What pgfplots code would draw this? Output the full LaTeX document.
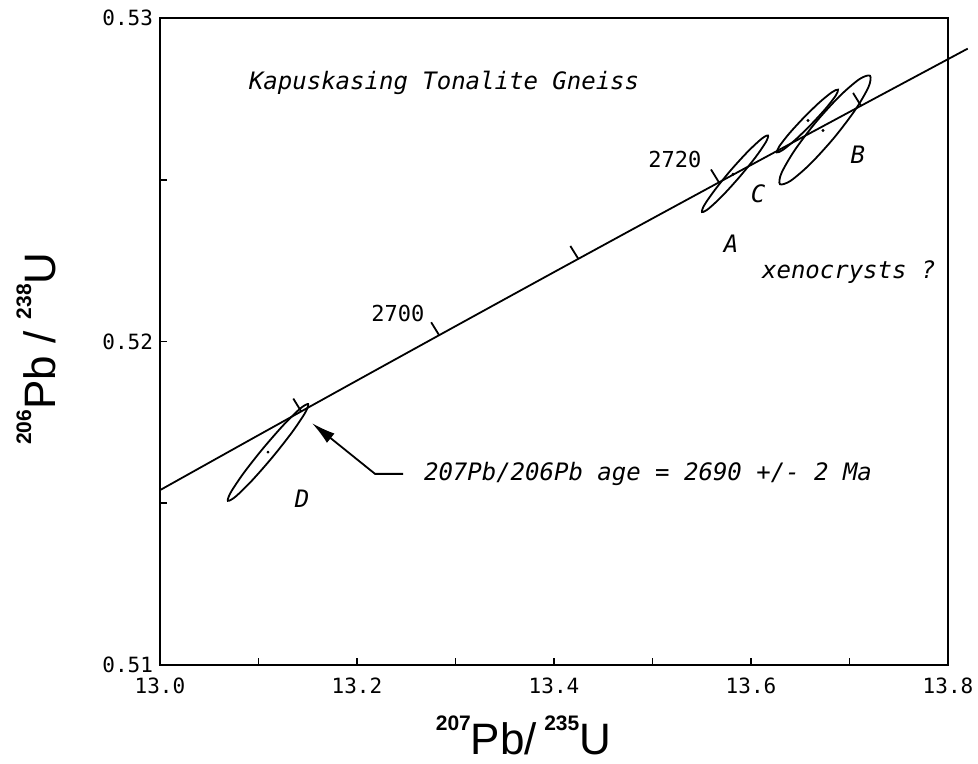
\documentclass[border=0pt]{standalone}
\usepackage{pgfplots}
\pgfplotsset{compat=1.18}
\usetikzlibrary{arrows.meta}
\usepackage{fontspec}
\setmainfont{DejaVu Sans Mono}
\newfontfamily\labfont{Liberation Sans}
\newcommand{\isosup}[1]{\raisebox{12pt}{\fontsize{10.5}{10}\selectfont\bfseries #1}}
\begin{document}
\begin{tikzpicture}[x=1pt,y=1pt]
\path[use as bounding box] (-80,-49.5) rectangle (409,332.5);
\begin{axis}[
  scale only axis, width=394pt, height=323.5pt,
  at={(0,0)}, anchor=south west,
  xmin=13.0, xmax=13.8, ymin=0.51, ymax=0.53,
  clip=false,
  axis line style={line width=0.9pt},
  xtick={13.0,13.2,13.4,13.6,13.8}, minor xtick={13.1,13.3,13.5,13.7},
  ytick={0.51,0.52,0.53}, minor ytick={0.515,0.525},
  tick align=inside, tick pos=left,
  major tick length=3.5pt, minor tick length=3.5pt,
  tick style={line width=0.8pt, black},
  scaled ticks=false,
  /pgf/number format/assume math mode=true,
  tick label style={font=\fontsize{10.5}{12}\selectfont},
  xticklabel style={/pgf/number format/.cd, fixed, fixed zerofill, precision=1, /tikz/yshift=-3pt},
  yticklabel style={/pgf/number format/.cd, fixed, fixed zerofill, precision=2},
  xlabel={\labfont\fontsize{22}{22}\selectfont\isosup{207}Pb/\,\isosup{235}U},
  ylabel={\labfont\fontsize{22}{22}\selectfont\isosup{206}Pb / \isosup{238}U},
  x label style={at={(axis description cs:0.4613,-0.138)}, anchor=base, inner sep=0pt},
  y label style={at={(axis description cs:-0.1332,0.489)}, anchor=base},
]
% concordia
\addplot[line width=0.9pt, smooth] coordinates {
 (13.0,0.515405) (13.1,0.517105) (13.2,0.518794) (13.3,0.520473) (13.4,0.522144)
 (13.5,0.523804) (13.6,0.525455) (13.7,0.527096) (13.8,0.528727) (13.82,0.529053)};
% age ticks
\addplot[line width=0.9pt] coordinates {(13.1434,0.517836) (13.1353,0.518236)};
\addplot[line width=0.9pt] coordinates {(13.2834,0.520194) (13.2753,0.520594)};
\addplot[line width=0.9pt] coordinates {(13.4247,0.522553) (13.4166,0.522953)};
\addplot[line width=0.9pt] coordinates {(13.5675,0.524917) (13.5594,0.525317)};
\addplot[line width=0.9pt] coordinates {(13.7117,0.527284) (13.7036,0.527684)};
% ellipse D
\addplot[line width=0.9pt, smooth cycle] coordinates {
 (13.1504,0.518065) (13.1474,0.517800) (13.1344,0.517208) (13.1147,0.516443) (13.0937,0.515712) (13.0770,0.515212)
 (13.0689,0.515074) (13.0719,0.515338) (13.0849,0.515931) (13.1046,0.516695) (13.1256,0.517426) (13.1423,0.517926)};
% ellipse A
\addplot[line width=0.9pt, smooth cycle] coordinates {
 (13.6173,0.526369) (13.6149,0.526154) (13.6042,0.525680) (13.5880,0.525074) (13.5707,0.524495) (13.5569,0.524105)
 (13.5503,0.524000) (13.5526,0.524215) (13.5634,0.524689) (13.5795,0.525295) (13.5969,0.525874) (13.6107,0.526265)};
% ellipse C
\addplot[line width=0.9pt, smooth cycle] coordinates {
 (13.6883,0.527785) (13.6860,0.527600) (13.6760,0.527206) (13.6610,0.526708) (13.6451,0.526237) (13.6324,0.525923)
 (13.6264,0.525846) (13.6287,0.526031) (13.6387,0.526425) (13.6537,0.526923) (13.6696,0.527394) (13.6823,0.527708)};
% ellipse B
\addplot[line width=0.9pt, smooth cycle] coordinates {
 (13.7208,0.528215) (13.7194,0.527874) (13.7061,0.527172) (13.6845,0.526303) (13.6604,0.525495) (13.6403,0.524969)
 (13.6294,0.524862) (13.6309,0.525203) (13.6442,0.525905) (13.6657,0.526774) (13.6899,0.527582) (13.7100,0.528108)};
% centre dots
\addplot[only marks, mark=*, mark size=0.5pt] coordinates {
 (13.1096,0.51658) (13.5817,0.525169) (13.6579,0.526831) (13.6731,0.526523)};
% arrow
\draw[line width=0.9pt, -{Latex[length=12pt,width=6pt]}] (axis cs:13.2467,0.515908) -- (axis cs:13.2183,0.515908) -- (axis cs:13.1543,0.517477);
% texts
\node[anchor=west, font=\fontsize{12}{14}\selectfont\itshape] at (axis cs:13.0832,0.5280) {Kapuskasing Tonalite Gneiss};
\node[anchor=west, font=\fontsize{12}{14}\selectfont\itshape] at (axis cs:13.6041,0.522154) {xenocrysts ?};
\node[anchor=west, font=\fontsize{12}{14}\selectfont\itshape] at (axis cs:13.2609,0.515908) {207Pb/206Pb age = 2690 +/- 2 Ma};
\node[font=\fontsize{11}{13}\selectfont] at (axis cs:13.5228,0.525631) {2720};
\node[font=\fontsize{11}{13}\selectfont] at (axis cs:13.2416,0.520862) {2700};
\node[font=\fontsize{12}{14}\selectfont\itshape] at (axis cs:13.5797,0.523015) {A};
\node[font=\fontsize{12}{14}\selectfont\itshape] at (axis cs:13.6071,0.524554) {C};
\node[font=\fontsize{12}{14}\selectfont\itshape] at (axis cs:13.7086,0.525785) {B};
\node[font=\fontsize{12}{14}\selectfont\itshape] at (axis cs:13.1442,0.515138) {D};
\end{axis}
\end{tikzpicture}
\end{document}
